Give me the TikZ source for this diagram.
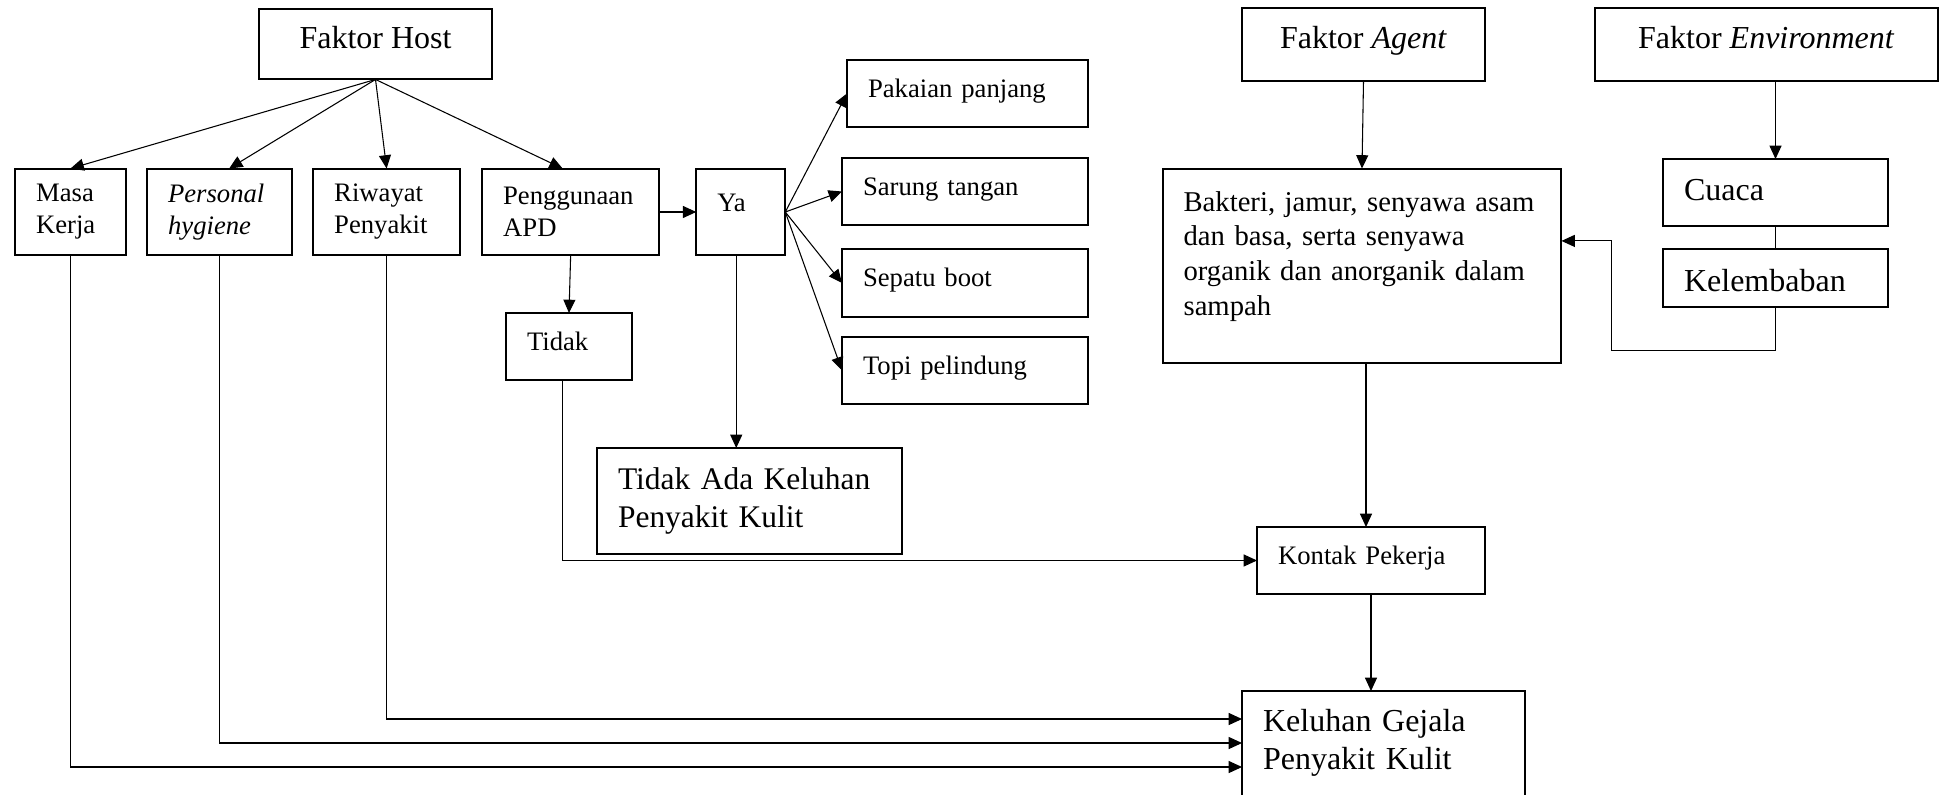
\documentclass[tikz,border=0pt]{standalone}
\usepackage{fontspec}
\setmainfont{Liberation Serif}
\usepackage{tikz}
\usetikzlibrary{positioning,calc,arrows.meta}

\begin{document}
\begin{tikzpicture}[x=0.375pt,y=0.375pt,
    box/.style={draw, line width=0.75pt, outer sep=0pt, inner xsep=7.9pt, inner ysep=0pt, align=left},
    head/.style={draw, line width=0.75pt, outer sep=0pt, align=center, font=\fontsize{12}{14}\selectfont, text height=8.3pt, text depth=5pt},
    one/.style={text height=7pt, text depth=4pt},
    big/.style={font=\fontsize{12}{14.3}\selectfont},
    mid/.style={font=\fontsize{10.75}{13.1}\selectfont},
    small/.style={font=\fontsize{10}{12}\selectfont},
    arr/.style={line width=0.4pt, -{Triangle[length=5pt,width=4.5pt]}},
    ln/.style={line width=0.4pt}]
    \useasboundingbox (0,0) rectangle (1939,795);
    % faktor host
    \node[head, minimum width=87.4pt, minimum height=26.6pt] (host) at (375.5,751) {Faktor Host};
    \node[box, small, text width=25.8pt, minimum height=32.6pt] (masa) at (70.5,583) {Masa\\Kerja};
    \node[box, small, text width=38.6pt, minimum height=32.6pt, right=7.9pt of masa] (hyg) {\textit{Personal}\\\textit{hygiene}};
    \node[box, small, text width=39.3pt, minimum height=32.6pt, right=7.9pt of hyg] (riw) {Riwayat\\Penyakit};
    \node[box, small, text width=50.6pt, minimum height=32.6pt, right=8.25pt of riw] (apd) {Penggunaan\\APD};
    \node[box, small, text width=17.6pt, minimum height=32.6pt, text height=7pt, text depth=7pt, right=13.9pt of apd] (ya) {Ya};
    % jenis APD
    \node[box, small, one, text width=74.6pt, minimum height=25.1pt] (baju) at (967.5,701.5) {Pakaian panjang};
    \node[box, small, one, text width=76.5pt, minimum height=25.1pt] (sarung) at (965,603.5) {Sarung tangan};
    \node[box, small, one, text width=76.5pt, minimum height=25.5pt, below=9pt of sarung] (sepatu) {Sepatu boot};
    \node[box, small, one, text width=76.5pt, minimum height=25.1pt, below=7.5pt of sepatu] (topi) {Topi pelindung};
    \node[box, small, one, text width=31.5pt, minimum height=25.1pt] (tdk) at (569,448.5) {Tidak};
    \node[box, font=\fontsize{11.8}{14.5}\selectfont, text width=98.6pt, minimum height=39.75pt] (tdkada) at (749.5,294) {Tidak Ada Keluhan\\Penyakit Kulit};
    % faktor agent dan environment
    \node[head, minimum width=91.1pt, minimum height=27.4pt] (agent) at (1363.5,750.5) {Faktor \textit{Agent}};
    \node[head, minimum width=128.5pt, minimum height=27.4pt] (env) at (1766.3,750.5) {Faktor \textit{Environment}};
    \node[box, mid, text width=133.8pt, minimum height=73.1pt, text height=8pt, text depth=49.2pt] (bakteri) at (1362,529) {\mbox{Bakteri, jamur, senyawa asam}\\dan basa, serta senyawa\\organik dan anorganik dalam\\sampah};
    \node[box, big, text width=68.6pt, minimum height=25.1pt, text height=8.3pt, text depth=2pt] (cuaca) at (1775.5,602.5) {Cuaca};
    \node[box, big, text width=68.6pt, minimum height=21.75pt, text height=10pt, text depth=0pt, below=8.6pt of cuaca] (lembab) {Kelembaban};
    \node[box, small, one, text width=69.7pt, minimum height=25.1pt] (kontak) at (1371,234.5) {Kontak Pekerja};
    \node[box, big, draw=none, text width=90.3pt, minimum height=38.6pt] (kel) at (1383.5,52.5) {Keluhan Gejala\\Penyakit Kulit};
    \draw[line width=0.75pt] ([yshift=-12pt]kel.south west) |- (kel.north east) -- ([yshift=-12pt]kel.south east);

    \draw[arr] (host.south) -- (masa.north);
    \draw[arr] (host.south) -- ([xshift=3.6pt]hyg.north);
    \draw[arr] (host.south) -- (riw.north);
    \draw[arr] (host.south) -- ([xshift=-3pt]apd.north);
    \draw[arr] (apd.east) -- (ya.west);
    \draw[arr] (ya.east) -- (baju.west);
    \draw[arr] (ya.east) -- (sarung.west);
    \draw[arr] (ya.east) -- (sepatu.west);
    \draw[arr] (ya.east) -- (topi.west);
    \draw[arr] (apd.south) -- (tdk.north);
    \draw[arr] ([xshift=-1.7pt]ya.south) -- ([xshift=-1.7pt]ya.south |- tdkada.north);
    \draw[arr] ([xshift=-2.6pt]tdk.south) |- (kontak.west);
    \draw[arr] (agent.south) -- (bakteri.north);
    \draw[arr] (env.south -| cuaca.north) -- (cuaca.north);
    \draw[ln] (cuaca.south) -- (lembab.north);
    \coordinate (bk) at ([yshift=9.4pt]bakteri.east);
    \draw[arr] (lembab.south) -- ++(0,-44) -| ([xshift=18.75pt]bk) -- (bk);
    \draw[arr] ([xshift=1.5pt]bakteri.south) -- ([xshift=1.5pt]bakteri.south |- kontak.north);
    \draw[arr] (kontak.south) -- (kontak.south |- kel.north);
    \coordinate (k1) at ([yshift=-10.5pt]kel.north west);
    \coordinate (k2) at ([yshift=-19.5pt]kel.north west);
    \coordinate (k3) at ([yshift=-28.5pt]kel.north west);
    \draw[arr] (riw.south) |- (k1);
    \draw[arr] (hyg.south) |- (k2);
    \draw[arr] (masa.south) |- (k3);
\end{tikzpicture}
\end{document}
